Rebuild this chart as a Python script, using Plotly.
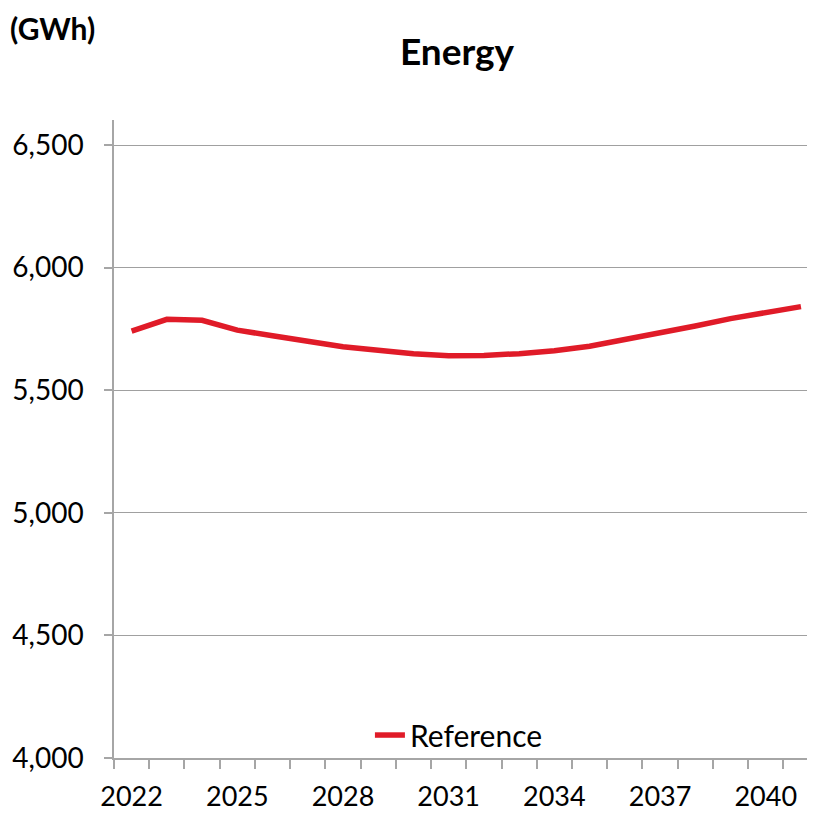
import plotly.graph_objects as go

# 연도별 에너지 수요 (GWh)
years = [str(y) for y in range(2022, 2042)]
energy = [5741, 5789, 5785, 5745, 5722, 5698, 5677, 5663, 5649, 5641,
          5642, 5649, 5661, 5679, 5705, 5732, 5762, 5792, 5814, 5841]
tick_labels = [y if (int(y) - 2022) % 3 == 0 else "" for y in years]
y_ticks = [4000, 4500, 5000, 5500, 6000, 6500]

FONT = "Lato, Open Sans, sans-serif"
AXIS_GREY = "#a6a6a6"

# 페이지 body 여백(8px)을 감안한 크기
W, H = 807, 805
L, R, T, B = 106, 7, 112, 55
PW, PH = W - L - R, H - T - B

fig = go.Figure()
fig.add_trace(go.Scatter(
    x=years, y=energy, mode="lines", name="Reference",
    line=dict(color="#e01b28", width=5.5),
))

fig.update_layout(
    width=W, height=H,
    paper_bgcolor="white", plot_bgcolor="white",
    margin=dict(l=L, r=R, t=T, b=B),
    font=dict(family=FONT, size=27, color="black"),
    title=dict(text="<b>Energy</b>", x=449 / W, xanchor="center",
               y=1 - 44 / H, yanchor="middle", font=dict(size=37)),
    showlegend=True,
    legend=dict(x=0.497, xanchor="center", y=0.036, yanchor="middle",
                bgcolor="rgba(0,0,0,0)", font=dict(size=30)),
)

fig.add_annotation(text="<b>(GWh)</b>", xref="paper", yref="paper",
                   x=(1 - L) / PW, xanchor="left", y=1 + (T - 20) / PH,
                   yanchor="middle", showarrow=False, font=dict(size=30),
                   borderpad=0)

fig.update_xaxes(
    type="category", range=[-0.5, 19.2], automargin=False,
    tickvals=years, ticktext=tick_labels, tickson="boundaries",
    ticks="outside", ticklen=9, tickcolor=AXIS_GREY, tickwidth=1.5,
    showline=True, linecolor=AXIS_GREY, linewidth=1.5,
    showgrid=False, tickangle=0, tickfont=dict(size=27),
    ticklabelstandoff=14,
)
fig.update_yaxes(
    range=[4000, 6602], tickvals=y_ticks, automargin=False,
    tickformat=",d", ticks="outside", ticklen=8, tickcolor=AXIS_GREY,
    tickwidth=1.5, showline=True, linecolor=AXIS_GREY, linewidth=1.5,
    showgrid=True, gridcolor="#a0a0a0", gridwidth=1, zeroline=False,
    tickfont=dict(size=28), ticklabelstandoff=15,
)

fig.write_html("out.html")
